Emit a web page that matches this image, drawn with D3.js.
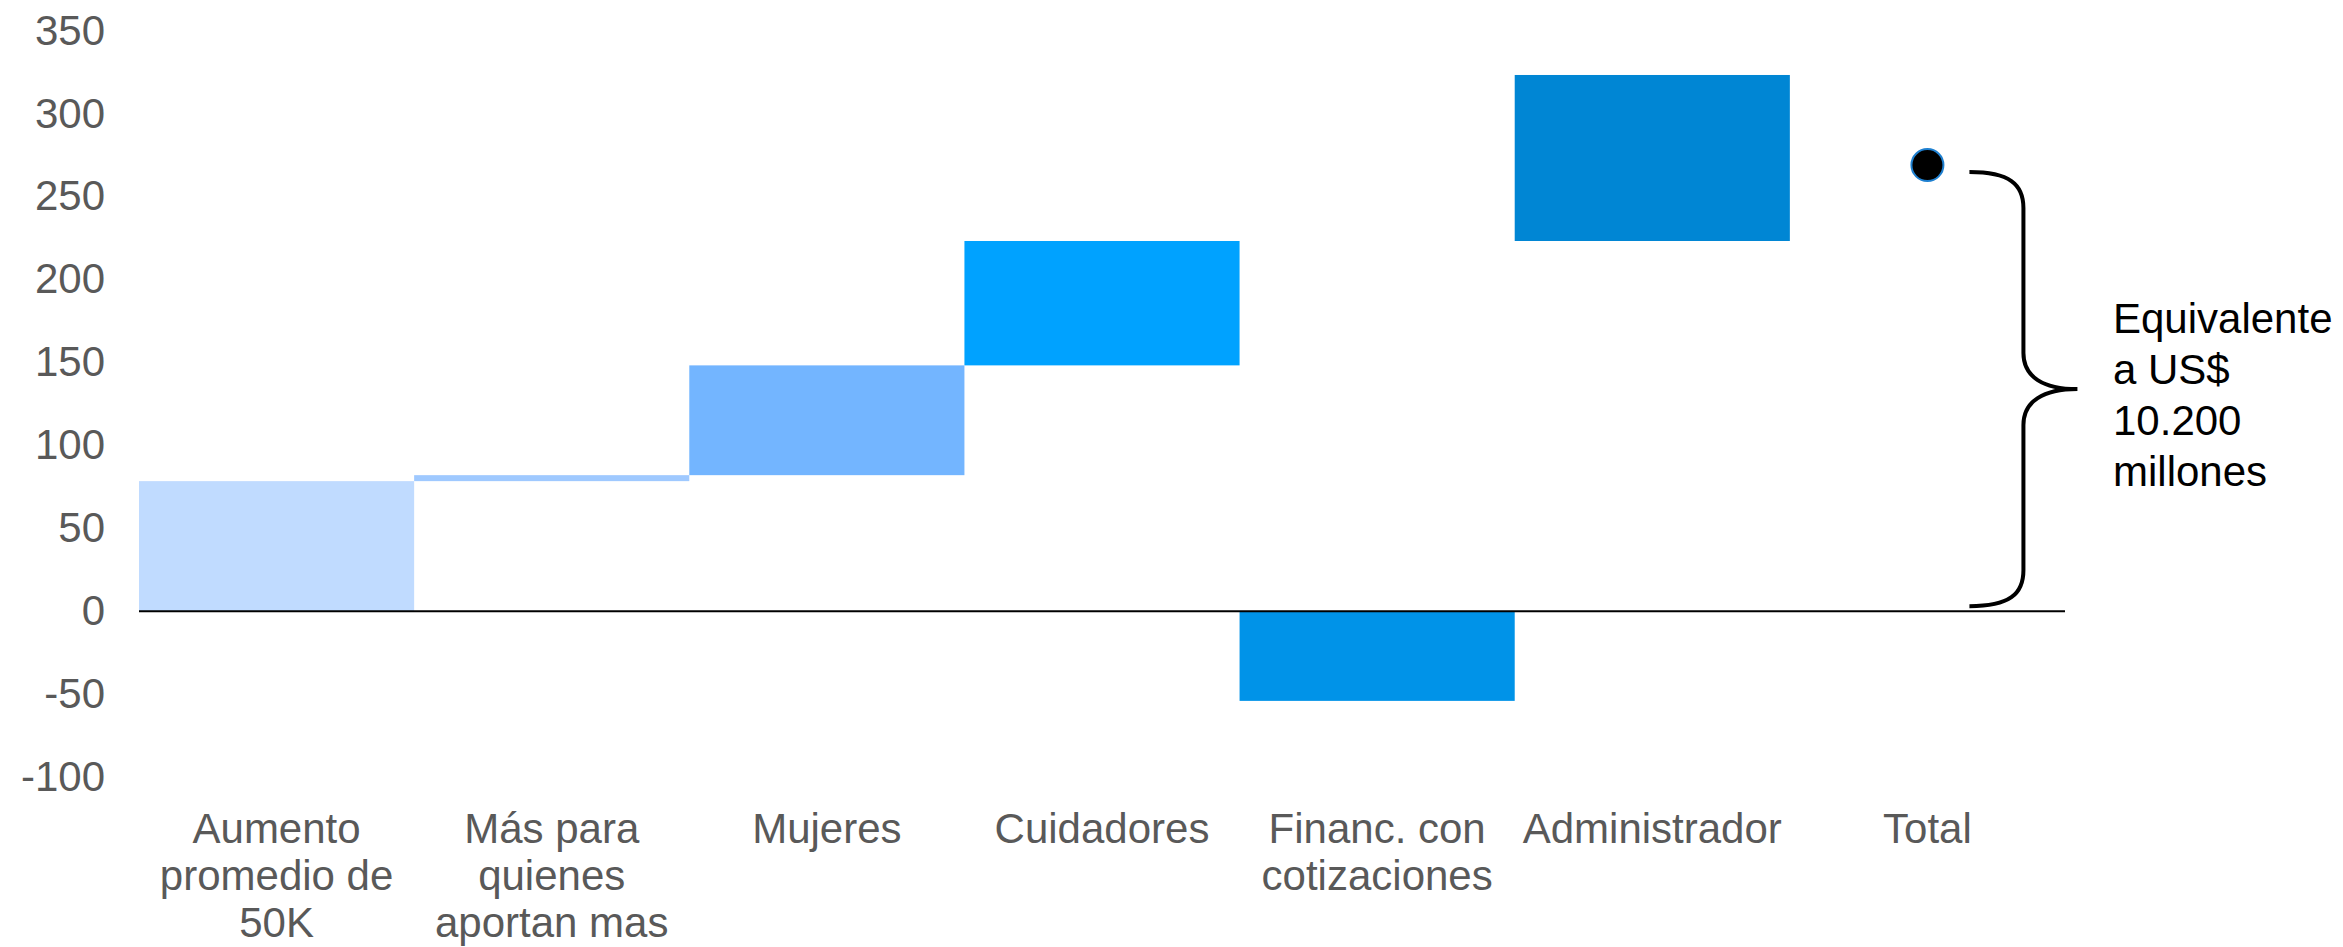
<!DOCTYPE html>
<html>
<head>
<meta charset="utf-8">
<style>
  body { margin: 0; background: #fff; }
  svg text { font-family: "Liberation Sans", Arial, sans-serif; }
</style>
</head>
<body>
<svg id="chart" width="2343" height="947"></svg>
<script src="https://cdn.jsdelivr.net/npm/d3@7"></script>
<script>
  // categorías y valores (cascada; la base de cada barra se lee del gráfico)
  var categories = ["Aumento promedio de 50K", "Más para quienes aportan mas", "Mujeres",
                    "Cuidadores", "Financ. con cotizaciones", "Administrador", "Total"];
  var labelLines = [["Aumento", "promedio de", "50K"], ["Más para", "quienes", "aportan mas"],
                    ["Mujeres"], ["Cuidadores"], ["Financ. con", "cotizaciones"], ["Administrador"], ["Total"]];
  var barBase  = [0, 78.4, 82.0, 148.2, 0, 223.2];
  var barValue = [78.4, 3.6, 66.2, 75.0, -54.1, 100.1];
  var totalValue = 269.0;
  var yTicks = [-100, -50, 0, 50, 100, 150, 200, 250, 300, 350];
  var barColors = ["#c0dbff", "#9fc9ff", "#73b5ff", "#00a2ff", "#0093e8", "#0086d4"];
  var noteLines = ["Equivalente", "a US$", "10.200", "millones"];

  var svg = d3.select("#chart");

  var x = d3.scaleBand()
      .domain(categories)
      .range([139, 2065])
      .padding(0);

  var y = d3.scaleLinear()
      .domain([-100, 350])
      .range([777, 30.7]);

  // eje y (solo etiquetas)
  var yAxis = svg.append("g")
      .attr("transform", "translate(105,0)")
      .call(d3.axisLeft(y).tickValues(yTicks).tickSize(0).tickPadding(0)
        .tickFormat(function(d) { return String(d); }));
  yAxis.select(".domain").remove();
  yAxis.selectAll("text")
      .attr("font-size", 42)
      .attr("fill", "#595959")
      .style("font-family", "'Liberation Sans', Arial, sans-serif");

  // barras
  svg.append("g")
    .selectAll("rect")
    .data(barValue)
    .enter().append("rect")
      .attr("x", function(d, i) { return x(categories[i]); })
      .attr("y", function(d, i) { return y(Math.max(barBase[i], barBase[i] + d)); })
      .attr("width", x.bandwidth())
      .attr("height", function(d, i) { return Math.abs(y(barBase[i]) - y(barBase[i] + d)); })
      .attr("fill", function(d, i) { return barColors[i]; });

  // línea cero
  svg.append("line")
      .attr("x1", x.range()[0])
      .attr("x2", x.range()[1])
      .attr("y1", y(0))
      .attr("y2", y(0))
      .attr("stroke", "#000")
      .attr("stroke-width", 2);

  // etiquetas de categoría
  var xl = svg.append("g").selectAll("text")
      .data(categories)
      .enter().append("text")
      .attr("x", function(d) { return x(d) + x.bandwidth() / 2; })
      .attr("y", 843)
      .attr("text-anchor", "middle")
      .attr("font-size", 42)
      .attr("fill", "#595959");
  xl.each(function(d, i) {
    var t = d3.select(this);
    labelLines[i].forEach(function(line, j) {
      t.append("tspan")
        .attr("x", x(d) + x.bandwidth() / 2)
        .attr("dy", j === 0 ? 0 : 47)
        .text(line);
    });
  });

  // punto total
  var cx = x("Total") + x.bandwidth() / 2;
  svg.append("circle")
      .attr("cx", cx)
      .attr("cy", y(totalValue))
      .attr("r", 16)
      .attr("fill", "#000")
      .attr("stroke", "#1f80d0")
      .attr("stroke-width", 2);

  // llave
  var bTop = y(totalValue) + 7, bBot = y(0) - 5, bMid = (bTop + bBot) / 2;
  var x0 = cx + 42, x1 = cx + 96, x2 = cx + 150;
  var brace = "M" + x0 + "," + bTop +
      " C" + (x0 + 40) + "," + bTop + " " + x1 + "," + (bTop + 12) + " " + x1 + "," + (bTop + 36) +
      " L" + x1 + "," + (bMid - 36) +
      " C" + x1 + "," + (bMid - 12) + " " + (x1 + 20) + "," + bMid + " " + x2 + "," + bMid +
      " C" + (x1 + 20) + "," + bMid + " " + x1 + "," + (bMid + 12) + " " + x1 + "," + (bMid + 36) +
      " L" + x1 + "," + (bBot - 36) +
      " C" + x1 + "," + (bBot - 12) + " " + (x0 + 40) + "," + bBot + " " + x0 + "," + bBot;
  svg.append("path")
      .attr("d", brace)
      .attr("fill", "none")
      .attr("stroke", "#000")
      .attr("stroke-width", 4);

  svg.append("text")
      .attr("x", 2113)
      .attr("y", 333)
      .attr("font-size", 42)
      .attr("fill", "#000")
    .selectAll("tspan")
    .data(noteLines)
    .enter().append("tspan")
      .attr("x", 2113)
      .attr("dy", function(d, i) { return i === 0 ? 0 : 51; })
      .text(function(d) { return d; });
</script>
</body>
</html>
